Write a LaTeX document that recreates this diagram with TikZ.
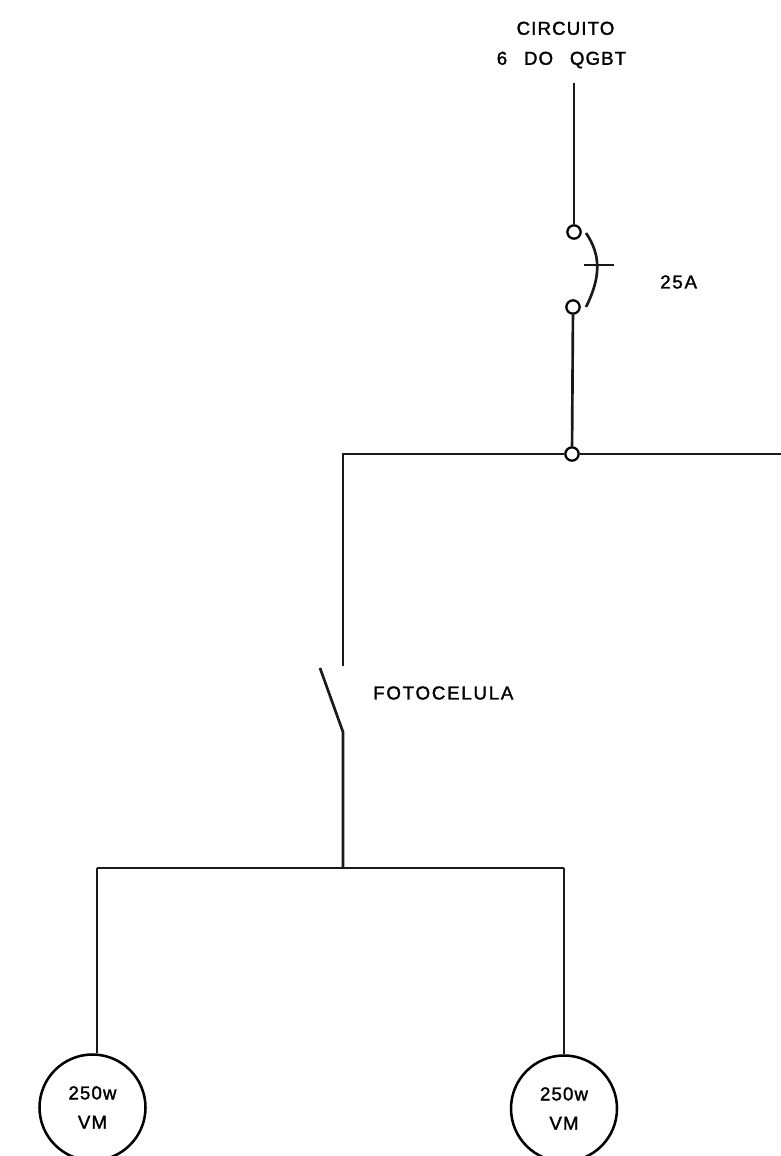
\documentclass[tikz,border=0pt]{standalone}
\usepackage{fontspec}
\setmainfont{Liberation Sans}
\newfontfamily\spaced[LetterSpace=6,FakeBold=1.6]{Liberation Sans}
\newfontfamily\wider[LetterSpace=9.5,FakeBold=1.6]{Liberation Sans}
\tikzset{
  wire/.style={line width=2pt,black!90},
  term/.style={circle,draw,line width=1.7pt,minimum size=10pt,inner sep=0pt},
  lamp/.style={circle,draw,line width=1.9pt,minimum size=79.5pt,inner sep=0pt,align=center,font=\spaced\fontsize{14}{22}\selectfont},
  lbl/.style={inner sep=0pt,align=center,font=\spaced\fontsize{14}{22.5}\selectfont},
  lblw/.style={inner sep=0pt,anchor=west,font=\wider\fontsize{14}{18}\selectfont}
}
\begin{document}
\begin{tikzpicture}[x=0.75pt,y=-0.75pt]
\useasboundingbox (0,0) rectangle (781,1156);
\clip (0,0) rectangle (781,1156);
\node[lbl] (title) at (561.5,45) {\hspace*{6pt}CIRCUITO\\6\hspace{0.9em}DO\hspace{0.9em}QGBT};
\node[lblw] (amp) at (660,282) {25A};
\node[lblw] (foto) at (373,693) {FOTOCELULA};
\node[term] (t1) at (574,232) {};
\node[term] (t2) at (573,307) {};
\node[term] (j) at (572,454) {};
\node[lamp] (l1) at (92.5,1107.5) {250w\\VM};
\node[lamp] (l2) at (564,1108.5) {250w\\VM};
\coordinate (top) at (574,83);
\coordinate (east) at (781,454);
\coordinate (nw) at (343,454);
\coordinate (swtop) at (343,666);
\coordinate (swfree) at (320,668);
\coordinate (swhinge) at (343,732);
\coordinate (bus) at (343,868);
\coordinate (busl) at (97,868);
\coordinate (busr) at (564,868);
\coordinate (a1) at (586,233);
\coordinate (a2) at (586,307);
\coordinate (k1) at (584,265);
\coordinate (k2) at (614,265);
\draw[wire] (top) -- (t1);
\draw[wire] (t2) -- (j);
\draw[wire] (j) -- (east);
\draw[wire] (j) -- (nw) -- (swtop);
\draw[wire] (swfree) -- (swhinge) -- (bus);
\draw[wire] (busl) -- (busr);
\draw[wire] (busl) -- (l1.north -| busl);
\draw[wire] (busr) -- (l2);
\draw[wire] (a1) .. controls (601,255) and (601,277) .. (a2);
\draw[wire] (k1) -- (k2);
\end{tikzpicture}
\end{document}
